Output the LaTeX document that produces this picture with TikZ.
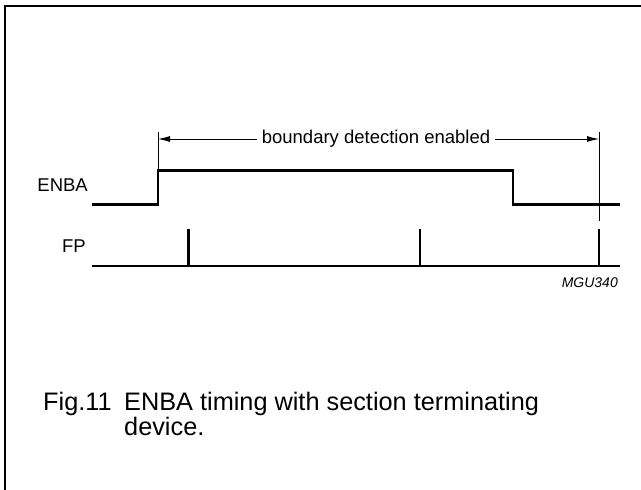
\documentclass[tikz,border=0pt]{standalone}
\usepackage{fontspec}
\setmainfont{Liberation Sans}
\usetikzlibrary{arrows.meta}
\begin{document}
\begin{tikzpicture}[x=1pt,y=-1pt,
  signal/.style={line width=2.6pt,line join=miter},
  marker/.style={line width=0.9pt},
  dimline/.style={line width=0.9pt,-{Latex[length=12pt,width=6pt]}},
  siglabel/.style={font=\fontsize{18.5}{22}\selectfont,anchor=east,inner sep=0pt},
  caption/.style={font=\fontsize{25.3}{25}\selectfont,anchor=north west,inner sep=0pt,align=left}]
\useasboundingbox (0,0) rectangle (641,490);
% frame (top and left edges)
\draw[line width=2pt] (641,6) -- (4.5,6) -- (4.5,490);

% signal names
\node[siglabel] (enba) at (88,185) {ENBA};
\node[siglabel] (fp) at (86,246) {FP};

% timing references
\coordinate (tA) at (158,132);
\coordinate (tB) at (599,132);
\coordinate (tAbot) at (158,170);
\coordinate (tBbot) at (599,221);
\draw[marker] (tA) -- (tAbot);
\draw[marker] (tB) -- (tBbot);

% enable window
\node[font=\fontsize{18.5}{22}\selectfont,inner sep=5pt] (win) at (376,139) {boundary detection enabled};
\draw[dimline] (win.west) -- (tA |- win.west);
\draw[dimline] (win.east) -- (tB |- win.east);

% ENBA waveform
\draw[signal] (92,204.5) -- (158,204.5) -- (158,170.5) -- (513,170.5) -- (513,204.5) -- (620,204.5);

% FP waveform with pulses
\draw[signal] (92,266) -- (620,266);
\draw[signal] (188.5,266) -- (188.5,229);
\draw[signal] (420,266) -- (420,229);
\draw[signal] (599,266) -- (599,229);

\node[font=\fontsize{14}{16}\selectfont\itshape,anchor=east,inner sep=0pt] (code) at (618,283) {MGU340};

% caption
\node[caption] (fig) at (43,392) {Fig.11};
\node[caption] (cap) at (124,392) {ENBA timing with section terminating\\device.};
\end{tikzpicture}
\end{document}
